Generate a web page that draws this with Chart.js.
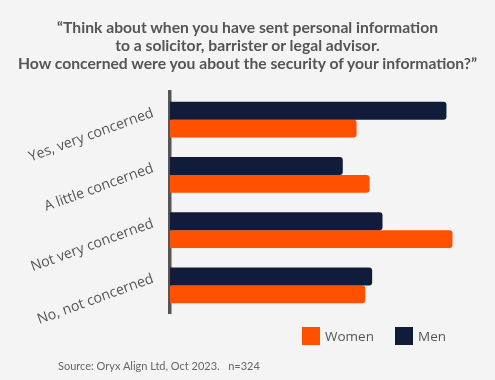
<!DOCTYPE html>
<html>
<head>
<meta charset="utf-8">
<script src="https://cdn.jsdelivr.net/npm/chart.js@4/dist/chart.umd.min.js"></script>
<style>
  html, body { margin: 0; padding: 0; background: #f4f4f4; }
  #wrap { position: relative; width: 495px; height: 380px; background: #f4f4f4; overflow: hidden; }
  #c { position: absolute; left: 0; top: 0; }
  #title { position: absolute; left: 0; top: 18px; width: 495px; text-align: center;
           font-family: "Lato", "Open Sans", sans-serif; font-weight: 700; font-size: 15.7px;
           line-height: 18px; color: #555; }
  .item { position: absolute; top: 327px; height: 18px; display: flex; align-items: center;
          font-family: "Open Sans", sans-serif; font-size: 13.5px; color: #555; }
  .box { width: 18px; height: 18px; margin-right: 5px; }
  #source { position: absolute; left: 58px; top: 359px; font-family: "Lato", "Open Sans", sans-serif;
            font-size: 11px; color: #666; white-space: pre; }
</style>
</head>
<body>
<div id="wrap">
  <canvas id="c" width="495" height="380"></canvas>
  <div id="title"></div>
  <div id="legend"></div>
  <div id="source"></div>
</div>
<script>
const titleLines = [
  "\u201cThink about when you have sent personal information",
  "to a solicitor, barrister or legal advisor.",
  "How concerned were you about the security of your information?\u201d"
];
const categories = ["Yes, very concerned", "A little concerned", "Not very concerned", "No, not concerned"];
const menValues = [32.0, 20.0, 24.6, 23.4];
const womenValues = [21.6, 23.1, 32.7, 22.6];
const seriesNames = ["Men", "Women"];
const legendOrder = ["Women", "Men"];
const sourceText = "Source: Oryx Align Ltd, Oct 2023.   n=324";

const colors = { Men: "#111c3b", Women: "#ff5000" };
const legendLeft = { Women: 302, Men: 395 };

document.getElementById("title").innerHTML = titleLines.map(s => s.replace(/&/g,"&amp;").replace(/</g,"&lt;")).join("<br>");
document.getElementById("source").textContent = sourceText;
const legendEl = document.getElementById("legend");
legendOrder.forEach(name => {
  const it = document.createElement("div"); it.className = "item"; it.style.left = legendLeft[name] + "px";
  const b = document.createElement("div"); b.className = "box"; b.style.background = colors[name];
  const t = document.createElement("span"); t.textContent = name;
  it.appendChild(b); it.appendChild(t); legendEl.appendChild(it);
});

new Chart(document.getElementById("c"), {
  type: "bar",
  data: {
    labels: categories,
    datasets: [
      { label: seriesNames[0], data: menValues, backgroundColor: colors.Men },
      { label: seriesNames[1], data: womenValues, backgroundColor: colors.Women }
    ]
  },
  options: {
    indexAxis: "y",
    responsive: false,
    animation: false,
    devicePixelRatio: 1,
    layout: { padding: { left: 0, top: 92, right: 14, bottom: 67 } },
    datasets: { bar: { categoryPercentage: 0.65, barPercentage: 1.0, borderRadius: 3, borderSkipped: "start" } },
    plugins: { legend: { display: false }, title: { display: false }, tooltip: { enabled: false } },
    scales: {
      x: { display: false, min: 0, max: 36 },
      y: {
        afterFit: s => { s.width = 170; s.paddingTop = 0; s.paddingBottom = 0; },
        grid: { display: false, drawTicks: false },
        border: { display: true, color: "#555555", width: 3.5 },
        ticks: {
          minRotation: 20, maxRotation: 20, padding: 17, labelOffset: -7,
          color: "#555", font: { family: "'Open Sans', sans-serif", size: 14.2 }
        }
      }
    }
  }
});
</script>
</body>
</html>
